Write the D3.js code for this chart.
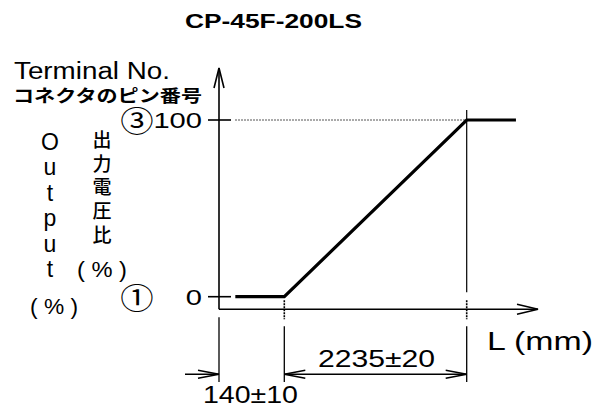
<!DOCTYPE html>
<html>
<head>
<meta charset="utf-8">
<script src="https://cdn.jsdelivr.net/npm/d3@7"></script>
<style>
  body { margin: 0; background: #fff; }
  text { fill: #000; }
</style>
</head>
<body>
<div id="chart"></div>
<script>
// chart values (schematic drawing, x is not to scale)
const title = "CP-45F-200LS";
const lengthMm = [35, 140, 2375, 2975];     // L positions of the curve corners
const outputPct = [0, 0, 100, 100];         // output voltage ratio (%)
const yTickValues = [0, 100];
const yTickLabels = ["0", "100"];
const terminalLabels = ["①", "③"];
const dimStart = [0, 140];
const dimEnd = [140, 2375];
const dimLabels = ["140±10", "2235±20"];
const outputLetters = ["O", "u", "t", "p", "u", "t"];
const jpAxisChars = ["出", "力", "電", "圧", "比"];

const width = 603, height = 410;
var svg, x, y;

// stretch text to the width measured on the picture
function fit(sel, len) {
    return sel.attr("textLength", len).attr("lengthAdjust", "spacingAndGlyphs");
}

document.addEventListener('DOMContentLoaded', function () {
    svg = d3.select("#chart")
      .append("svg")
        .attr("width", width)
        .attr("height", height)
        .style("font-family", "'Liberation Sans', Arial, sans-serif");

    // piecewise scale, the drawing is only schematic
    x = d3.scaleLinear()
        .domain([0, 140, 2375, 3000])
        .range([219, 284.3, 466.7, 518]);
    y = d3.scaleLinear()
        .domain([0, 100])
        .range([296.7, 120]);

    const axisY = y(0) + 12.5;     // x axis sits a bit under the 0 level
    const x0 = x(0);
    const arrowEnd = x.range()[3] + 20;

    // title
    fit(svg.append("text")
        .attr("x", 185).attr("y", 28)
        .style("font-weight", "bold")
        .style("font-size", "21px")
        .text(title), 177);

    // axes
    const axes = svg.append("g").attr("stroke", "#000").attr("stroke-width", 1.6).attr("fill", "none");
    axes.append("line").attr("x1", x0).attr("x2", x0).attr("y1", axisY).attr("y2", 68);
    axes.append("path").attr("d", `M${x0 - 5},88 L${x0},68 L${x0 + 5},88`);
    axes.append("line").attr("x1", x0).attr("x2", arrowEnd).attr("y1", axisY).attr("y2", axisY);
    axes.append("path").attr("d", `M${arrowEnd - 21},${axisY - 5} L${arrowEnd},${axisY} L${arrowEnd - 21},${axisY + 5}`);

    // y ticks + labels
    svg.append("g").selectAll("line")
        .data(yTickValues)
        .join("line")
        .attr("x1", x0 - 11).attr("x2", x0 + 12)
        .attr("y1", d => y(d)).attr("y2", d => y(d))
        .attr("stroke", "#000").attr("stroke-width", 1.6);

    svg.append("g").selectAll("text")
        .data(yTickValues)
        .join("text")
        .attr("x", 202)
        .attr("y", d => y(d))
        .attr("dy", "0.36em")
        .attr("text-anchor", "end")
        .attr("textLength", (d, i) => yTickLabels[i].length * 16.2)
        .attr("lengthAdjust", "spacingAndGlyphs")
        .style("font-size", "22px")
        .text((d, i) => yTickLabels[i]);

    // terminal numbers, drawn a bit wider than the font gives
    svg.append("g").selectAll("text")
        .data(yTickValues)
        .join("text")
        .attr("transform", d => `translate(137,${y(d) + 2}) scale(1.15,1)`)
        .attr("dy", "0.35em")
        .attr("text-anchor", "middle")
        .style("font-family", "'Noto Sans CJK JP', sans-serif")
        .style("font-size", "29px")
        .text((d, i) => terminalLabels[i]);

    // guide lines at 100 %
    svg.append("line")
        .attr("x1", x0 + 16).attr("x2", x(2375))
        .attr("y1", y(100)).attr("y2", y(100))
        .attr("stroke", "#555").attr("stroke-width", 1)
        .attr("stroke-dasharray", "2,1");
    svg.append("line")
        .attr("x1", x(2375)).attr("x2", x(2375))
        .attr("y1", y(100) - 10).attr("y2", axisY - 17)
        .attr("stroke", "#000").attr("stroke-width", 1.2);

    // marks on the x axis at the corners
    svg.append("g").selectAll("line")
        .data([140, 2375])
        .join("line")
        .attr("x1", d => x(d)).attr("x2", d => x(d))
        .attr("y1", axisY - 9).attr("y2", axisY + 10)
        .attr("stroke", "#000").attr("stroke-width", 1.6)
        .attr("stroke-dasharray", "2,1");

    // curve
    const pts = lengthMm.map((d, i) => [d, outputPct[i]]);
    svg.append("path")
        .datum(pts)
        .attr("fill", "none")
        .attr("stroke", "#000")
        .attr("stroke-width", 3.2)
        .attr("d", d3.line().x(d => x(d[0])).y(d => y(d[1])));

    // dimension lines
    const dimY = 374.3;
    const extLines = [0, 140, 2375];
    svg.append("g").selectAll("line")
        .data(extLines)
        .join("line")
        .attr("x1", d => x(d)).attr("x2", d => x(d))
        .attr("y1", (d, i) => i === 0 ? axisY + 8 : axisY + 17)
        .attr("y2", 382)
        .attr("stroke", "#000").attr("stroke-width", 1.3);

    const dim = svg.append("g").attr("stroke", "#000").attr("stroke-width", 1.4).attr("fill", "none");
    // 140: arrow coming from outside on the left
    dim.append("line").attr("x1", x(0) - 34).attr("x2", x(0)).attr("y1", dimY).attr("y2", dimY);
    dim.append("path").attr("d", `M${x(0) - 21},${dimY - 4} L${x(0)},${dimY} L${x(0) - 21},${dimY + 4}`);
    // 2235: arrows at both ends, pointing out
    dim.append("line").attr("x1", x(dimStart[1])).attr("x2", x(dimEnd[1])).attr("y1", dimY).attr("y2", dimY);
    dim.append("path").attr("d", `M${x(dimStart[1]) + 21},${dimY - 4} L${x(dimStart[1])},${dimY} L${x(dimStart[1]) + 21},${dimY + 4}`);
    dim.append("path").attr("d", `M${x(dimEnd[1]) - 21},${dimY - 4} L${x(dimEnd[1])},${dimY} L${x(dimEnd[1]) - 21},${dimY + 4}`);

    fit(svg.append("text")
        .attr("x", 203).attr("y", 403)
        .style("font-size", "23px")
        .text(dimLabels[0]), 95);
    fit(svg.append("text")
        .attr("x", 318).attr("y", 366.5)
        .style("font-size", "23px")
        .text(dimLabels[1]), 117);

    // x axis label
    fit(svg.append("text")
        .attr("x", 487).attr("y", 350)
        .style("font-size", "25px")
        .text("L (mm)"), 106);

    // y axis labels
    fit(svg.append("text")
        .attr("x", 14).attr("y", 79)
        .style("font-size", "23px")
        .text("Terminal No."), 156);
    fit(svg.append("text")
        .attr("x", 13).attr("y", 96)
        .attr("dy", "0.38em")
        .style("font-family", "'Noto Sans CJK JP', sans-serif")
        .style("font-weight", "bold")
        .style("font-size", "17px")
        .text("コネクタのピン番号"), 189);

    svg.append("g").selectAll("text")
        .data(outputLetters)
        .join("text")
        .attr("x", 50)
        .attr("y", (d, i) => 150 + i * 25.4)
        .attr("text-anchor", "middle")
        .style("font-size", "23px")
        .text(d => d);

    svg.append("g").selectAll("text")
        .data(jpAxisChars)
        .join("text")
        .attr("x", 102)
        .attr("y", (d, i) => 140 + i * 23.75)
        .attr("dy", "0.36em")
        .attr("text-anchor", "middle")
        .style("font-family", "'Noto Sans CJK JP', sans-serif")
        .style("font-weight", "500")
        .style("font-size", "19px")
        .text(d => d);

    fit(svg.append("text")
        .attr("x", 77).attr("y", 269)
        .attr("dy", "0.36em")
        .style("font-size", "22px")
        .text("( % )"), 50);
    fit(svg.append("text")
        .attr("x", 30).attr("y", 306)
        .attr("dy", "0.36em")
        .style("font-size", "22px")
        .text("( % )"), 48);
});
</script>
</body>
</html>
